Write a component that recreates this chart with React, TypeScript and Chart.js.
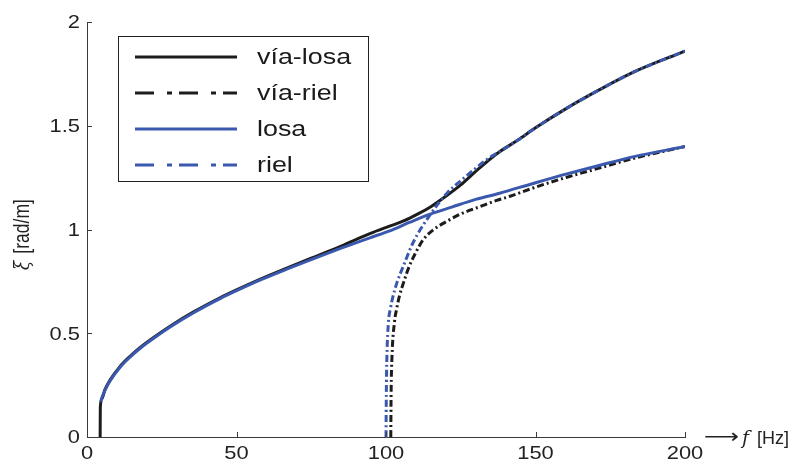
import React, { useEffect, useRef } from "react";
import { Chart, registerables } from "chart.js";

Chart.register(...registerables);

// ---- data ----
const viaLosaF = [4.4, 4.45, 5.0, 6.0, 7.7, 11, 14.4, 18, 22.4, 27.8, 35.8, 44.5, 50, 58, 67, 75, 85, 94.6, 101, 105.7, 110.7, 115, 120, 125, 130, 134, 138, 144, 150, 160.5, 171.6, 182.6, 200];
const viaLosaXi = [0, 0.14, 0.185, 0.228, 0.274, 0.339, 0.389, 0.434, 0.481, 0.534, 0.604, 0.671, 0.709, 0.761, 0.815, 0.862, 0.92, 0.98, 1.015, 1.04, 1.075, 1.11, 1.16, 1.215, 1.28, 1.33, 1.375, 1.43, 1.49, 1.585, 1.675, 1.757, 1.86];

const viaRielF = [101.6, 101.7, 102, 102.8, 103.6, 104.5, 106, 107.7, 110, 112.4, 116, 120.4, 125, 131.4, 137, 141.5, 149.2, 160.5, 171.6, 182.6, 200];
const viaRielXi = [0, 0.2, 0.386, 0.55, 0.62, 0.68, 0.75, 0.82, 0.89, 0.95, 1.0, 1.04, 1.075, 1.11, 1.14, 1.16, 1.2, 1.252, 1.297, 1.342, 1.4];

const losaF = [4.6, 5.0, 6.0, 7.7, 11, 14.4, 18, 22.4, 27.8, 35.8, 44.5, 50, 58, 67, 75, 85, 94.6, 101, 108, 115, 122, 130, 138, 149.2, 160.5, 171.6, 182.6, 200];
const losaXi = [0.17, 0.19, 0.225, 0.27, 0.335, 0.385, 0.43, 0.477, 0.53, 0.6, 0.667, 0.705, 0.757, 0.81, 0.855, 0.91, 0.96, 0.992, 1.035, 1.075, 1.108, 1.145, 1.175, 1.222, 1.268, 1.31, 1.35, 1.4];

const rielF = [100, 100.1, 100.3, 100.8, 101.5, 102.3, 103.8, 105.7, 109, 114.7, 120.4, 125, 130, 134, 138, 144, 150, 160.5, 171.6, 182.6, 200];
const rielXi = [0, 0.2, 0.386, 0.55, 0.62, 0.675, 0.75, 0.82, 0.935, 1.07, 1.175, 1.235, 1.295, 1.34, 1.375, 1.43, 1.49, 1.585, 1.675, 1.757, 1.86];

const seriesNames = ["vía-losa", "vía-riel", "losa", "riel"];

const xTickValues = [0, 50, 100, 150, 200];
const xTickLabels = ["0", "50", "100", "150", "200"];
const yTickValues = [0, 0.5, 1, 1.5, 2];
const yTickLabels = ["0", "0.5", "1", "1.5", "2"];

const yTitleSymbol = "ξ";
const yTitleUnit = "[rad/m]";
const xTitleArrow = "⟶";
const xTitleSymbol = "f";
const xTitleUnit = "[Hz]";

// ---- styles ----
const BLACK = "#1c1c1c";
const BLUE = "#3a58ad";
const AXIS = "#3a3a3a";
const SANS = '"Liberation Sans", Arial, sans-serif';
const SERIF = '"DejaVu Serif", "Liberation Serif", serif';
const SX = 1.25;
const PLOT_DASH = [7, 3, 2, 3];
const LEGEND_DASH = [19, 13, 5, 7];

const toPts = (xs: number[], ys: number[]) => xs.map((x, i) => ({ x, y: ys[i] }));

const decorPlugin = {
  id: "decor",
  afterDraw(chart: any) {
    const ctx: CanvasRenderingContext2D = chart.ctx;
    const xs = chart.scales.x;
    const ys = chart.scales.y;
    const area = chart.chartArea;
    ctx.save();

    // inward tick marks
    ctx.strokeStyle = AXIS;
    ctx.lineWidth = 1;
    ctx.setLineDash([]);
    yTickValues.forEach((v) => {
      const py = Math.round(ys.getPixelForValue(v)) + 0.5;
      ctx.beginPath();
      ctx.moveTo(area.left, py);
      ctx.lineTo(area.left + 5, py);
      ctx.stroke();
    });
    xTickValues.forEach((v) => {
      const px = Math.round(xs.getPixelForValue(v)) + 0.5;
      ctx.beginPath();
      ctx.moveTo(px, area.bottom);
      ctx.lineTo(px, area.bottom - 5);
      ctx.stroke();
    });

    // tick labels
    ctx.fillStyle = "#222";
    ctx.font = `17.5px ${SANS}`;
    ctx.textBaseline = "alphabetic";
    yTickValues.forEach((v, i) => {
      const py = ys.getPixelForValue(v);
      ctx.save();
      ctx.translate(area.left - 7, py + 6.3);
      ctx.scale(SX, 1);
      ctx.textAlign = "right";
      ctx.fillText(yTickLabels[i], 0, 0);
      ctx.restore();
    });
    xTickValues.forEach((v, i) => {
      const px = xs.getPixelForValue(v);
      ctx.save();
      ctx.translate(px, area.bottom + 22);
      ctx.scale(SX, 1);
      ctx.textAlign = "center";
      ctx.fillText(xTickLabels[i], 0, 0);
      ctx.restore();
    });

    // y title (rotated)
    ctx.save();
    ctx.translate(29, 270);
    ctx.rotate(-Math.PI / 2);
    ctx.scale(1, SX);
    ctx.textAlign = "left";
    ctx.font = `italic 17px ${SERIF}`;
    ctx.fillText(yTitleSymbol, 0, 0);
    const wSym = ctx.measureText(yTitleSymbol).width;
    ctx.font = `17.5px ${SANS}`;
    ctx.fillText(yTitleUnit, wSym + 7, 0);
    ctx.restore();

    // x title
    const ty = area.bottom;
    ctx.save();
    ctx.font = `20px "DejaVu Sans", sans-serif`;
    const aw = ctx.measureText(xTitleArrow).width;
    ctx.translate(704, ty + 6);
    ctx.scale(35 / aw, 1);
    ctx.textAlign = "left";
    ctx.fillText(xTitleArrow, 0, 0);
    ctx.restore();
    ctx.save();
    ctx.font = `italic 19px ${SERIF}`;
    ctx.textAlign = "left";
    ctx.fillText(xTitleSymbol, 742, ty + 7);
    ctx.font = `18px ${SANS}`;
    ctx.textAlign = "right";
    ctx.fillText(xTitleUnit, 789, ty + 7);
    ctx.restore();

    // legend
    const bx = 118.5, by = 36.5, bw = 250, bh = 145;
    ctx.fillStyle = "#fff";
    ctx.fillRect(bx, by, bw, bh);
    ctx.strokeStyle = "#222";
    ctx.lineWidth = 1;
    ctx.strokeRect(bx, by, bw, bh);
    const colors = [BLACK, BLACK, BLUE, BLUE];
    seriesNames.forEach((name, i) => {
      const base = 64 + i * 36;
      const ly = base - 7;
      ctx.save();
      ctx.strokeStyle = colors[i];
      ctx.lineWidth = 3;
      ctx.lineCap = "butt";
      ctx.setLineDash(i % 2 === 1 ? LEGEND_DASH : []);
      ctx.beginPath();
      ctx.moveTo(135, ly);
      ctx.lineTo(237, ly);
      ctx.stroke();
      ctx.restore();
      ctx.save();
      ctx.fillStyle = "#1a1a1a";
      ctx.font = `21.5px ${SANS}`;
      ctx.textAlign = "left";
      ctx.textBaseline = "alphabetic";
      ctx.translate(257, base);
      ctx.scale(SX, 1);
      ctx.fillText(name, 0, 0);
      ctx.restore();
    });

    ctx.restore();
  },
};

export default function App() {
  const ref = useRef<HTMLCanvasElement | null>(null);

  useEffect(() => {
    if (!ref.current) return;
    const common = {
      showLine: true,
      pointRadius: 0,
      borderWidth: 3,
      cubicInterpolationMode: "monotone",
      fill: false,
    };
    const chart = new Chart(ref.current, {
      type: "scatter",
      data: {
        datasets: [
          { ...common, label: seriesNames[0], data: toPts(viaLosaF, viaLosaXi), borderColor: BLACK, order: 2 },
          { ...common, label: seriesNames[1], data: toPts(viaRielF, viaRielXi), borderColor: BLACK, borderDash: PLOT_DASH, order: 2 },
          { ...common, label: seriesNames[2], data: toPts(losaF, losaXi), borderColor: BLUE, order: 1 },
          { ...common, label: seriesNames[3], data: toPts(rielF, rielXi), borderColor: BLUE, borderDash: PLOT_DASH, order: 1 },
        ],
      },
      options: {
        animation: false,
        responsive: false,
        devicePixelRatio: 1,
        layout: { padding: { left: 87, right: 105, top: 22, bottom: 24 } },
        plugins: { legend: { display: false }, tooltip: { enabled: false } },
        scales: {
          x: {
            type: "linear",
            min: 0,
            max: 200,
            grid: { display: false, drawTicks: false },
            border: { display: true, color: AXIS, width: 1 },
            ticks: { display: false },
          },
          y: {
            type: "linear",
            min: 0,
            max: 2,
            grid: { display: false, drawTicks: false },
            border: { display: true, color: AXIS, width: 1 },
            ticks: { display: false },
          },
        },
      },
      plugins: [decorPlugin],
    } as any);
    return () => chart.destroy();
  }, []);

  return (
    <div style={{ position: "fixed", left: 0, top: 0, width: 790, height: 461, background: "#fff" }}>
      <canvas ref={ref} width={790} height={461} style={{ display: "block" }} />
    </div>
  );
}
